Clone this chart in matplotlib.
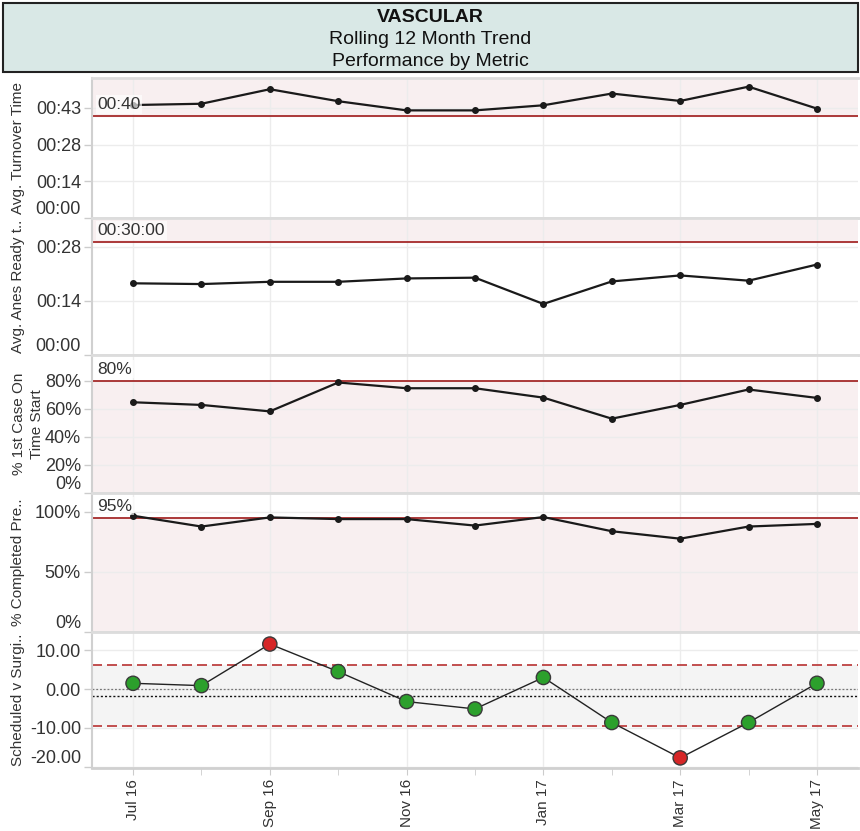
import matplotlib.pyplot as plt
from matplotlib.patches import Rectangle
import numpy as np

plt.rcParams['font.family'] = ['Liberation Sans', 'DejaVu Sans']

# data (minutes for the two time metrics)
months = ['Jul 16', 'Aug 16', 'Sep 16', 'Oct 16', 'Nov 16', 'Dec 16',
          'Jan 17', 'Feb 17', 'Mar 17', 'Apr 17', 'May 17']
turnover = [44.3, 44.8, 50.5, 45.8, 42.2, 42.2, 44.2, 48.8, 45.9, 51.5, 42.9]
anes_ready = [19.1, 18.9, 19.5, 19.5, 20.4, 20.6, 13.6, 19.6, 21.2, 19.8, 24.1]
first_case = [64.7, 62.8, 58.2, 78.8, 74.7, 74.7, 68.0, 53.0, 62.8, 73.8, 67.8]
completed_pre = [96.7, 87.7, 95.3, 93.9, 93.9, 88.5, 95.6, 83.8, 77.6, 87.7, 89.9]
sched_v_surg = [1.5, 0.9, 11.6, 4.5, -3.2, -5.1, 3.0, -8.6, -17.7, -8.6, 1.5]

turnover_target = 40
anes_target = 30
first_case_target = 80
completed_target = 95
ucl, lcl = 6.26, -9.5

W, H = 860, 831
PINK = '#f8eff0'
RED_LINE = '#a52a2a'
TXT = '#333333'

fig = plt.figure(figsize=(W / 100, H / 100), dpi=100)


def hhmm(v, pos=None):
    return '%02d:%02d' % (int(v // 60), int(v % 60))


def panel(top, bottom):
    ax = fig.add_axes([92 / W, 1 - bottom / H, (858 - 92) / W, (bottom - top) / H])
    ax.set_xlim(-0.6, 10.6)
    ax.set_xticks(range(0, 11, 2))
    ax.set_xticks(range(1, 11, 2), minor=True)
    ax.set_axisbelow(True)
    ax.grid(which='major', color='#ececec', lw=1)
    for s in ['top', 'bottom']:
        ax.spines[s].set_color('#dcdcdc')
        ax.spines[s].set_linewidth(2)
    ax.spines['left'].set_color('#d0d0d0')
    ax.spines['left'].set_linewidth(1.5)
    ax.spines['right'].set_visible(False)
    ax.tick_params(axis='y', length=6, width=1, color='#cccccc', labelsize=13,
                   labelcolor=TXT, pad=2)
    ax.tick_params(axis='x', which='both', length=0, labelbottom=False)
    return ax


def ytitle(text, top, bottom, x=18):
    fig.text(x / W, 1 - (top + bottom) / 2 / H, text, rotation=90, ha='center',
             va='center', fontsize=11, color=TXT, linespacing=1.3)


def yticks(ax, ticks, labels):
    ax.set_yticks(ticks, labels)
    ax.yaxis.get_major_ticks()[0].label1.set_va('bottom')


def target(ax, y, label):
    ax.axhline(y, color=RED_LINE, lw=1.3, zorder=2)
    ax.annotate(label, xy=(0.007, y), xycoords=('axes fraction', 'data'),
                xytext=(0, 3), textcoords='offset points', ha='left', va='bottom',
                fontsize=12.5, color=TXT, zorder=5,
                bbox=dict(boxstyle='square,pad=0.1', fc='white', ec='none', alpha=0.65))


def trend(ax, vals):
    ax.plot(range(len(vals)), vals, color='#1a1a1a', lw=1.6, marker='o', ms=4, zorder=3)


# title box
fig.patches.append(Rectangle((3 / W, 1 - 72 / H), 855 / W, 69 / H, transform=fig.transFigure,
                             fc='#d9e8e6', ec='#222222', lw=1.5))
fig.text(0.5, 1 - 18 / H, 'VASCULAR', ha='center', va='center', fontsize=14,
         fontweight='bold', color='#111111')
fig.text(0.5, 1 - 40 / H, 'Rolling 12 Month Trend', ha='center', va='center',
         fontsize=14, color='#111111')
fig.text(0.5, 1 - 61 / H, 'Performance by Metric', ha='center', va='center',
         fontsize=14, color='#111111')

# panel 1 - turnover
ax1 = panel(78, 218)
ax1.set_ylim(0, 54.9)
ax1.axhspan(turnover_target, 60, color=PINK, zorder=0)
trend(ax1, turnover)
target(ax1, turnover_target, '00:40')
yticks(ax1, [0, 14.4, 28.8, 43.2], [hhmm(v) for v in [0, 14.4, 28.8, 43.2]])
ytitle('Avg. Turnover Time', 78, 218)

# panel 2 - anes ready
ax2 = panel(218, 355)
ax2.set_ylim(0, 36.5)
ax2.axhspan(anes_target, 40, color=PINK, zorder=0)
trend(ax2, anes_ready)
target(ax2, anes_target, '00:30:00')
yticks(ax2, [0, 14.4, 28.8], [hhmm(v) for v in [0, 14.4, 28.8]])
ytitle('Avg. Anes Ready t..', 218, 355)

# panel 3 - 1st case on time
ax3 = panel(355, 493)
ax3.set_ylim(0, 98.4)
ax3.axhspan(-5, first_case_target, color=PINK, zorder=0)
trend(ax3, first_case)
target(ax3, first_case_target, '80%')
yticks(ax3, [0, 20, 40, 60, 80], ['%d%%' % v for v in [0, 20, 40, 60, 80]])
ytitle('% 1st Case On\nTime Start', 355, 493, x=28)

# panel 4 - completed pre
ax4 = panel(493, 632)
ax4.set_ylim(0, 115.6)
ax4.axhspan(-5, completed_target, color=PINK, zorder=0)
trend(ax4, completed_pre)
target(ax4, completed_target, '95%')
yticks(ax4, [0, 50, 100], ['%d%%' % v for v in [0, 50, 100]])
ytitle('% Completed Pre..', 493, 632)

# panel 5 - scheduled v surgical, control chart
ax5 = panel(632, 768)
ax5.set_ylim(-20.3, 14.7)
vals = np.array(sched_v_surg)
ax5.axhspan(lcl, ucl, color='#f4f4f4', zorder=0)
ax5.axhline(ucl, color='#b83232', lw=1.2, ls=(0, (6, 3)), zorder=2)
ax5.axhline(lcl, color='#b83232', lw=1.2, ls=(0, (6, 3)), zorder=2)
ax5.axhline(0, color='#777777', lw=0.9, ls=(0, (1.5, 1.5)), zorder=2)
ax5.axhline(vals.mean(), color='#111111', lw=1, ls=(0, (1.5, 1.5)), zorder=2)
ax5.plot(range(len(vals)), vals, color='#222222', lw=1, zorder=3)
colors = np.where((vals > ucl) | (vals < lcl), '#d62728', '#2ca02c')
ax5.scatter(range(len(vals)), vals, s=105, c=colors, edgecolors='#3a3a3a', linewidths=1, zorder=4)
yticks(ax5, [-20, -10, 0, 10], ['%.2f' % v for v in [-20, -10, 0, 10]])
ytitle('Scheduled v Surgi..', 632, 768)
ax5.tick_params(axis='x', which='both', length=5, color='#cccccc', labelbottom=True,
                labelsize=11, labelcolor=TXT, pad=3)
ax5.set_xticks(range(0, 11, 2), [months[i] for i in range(0, 11, 2)], rotation=90)
ax5.spines['bottom'].set_color('#d0d0d0')

fig.savefig('out.png', dpi=100)
